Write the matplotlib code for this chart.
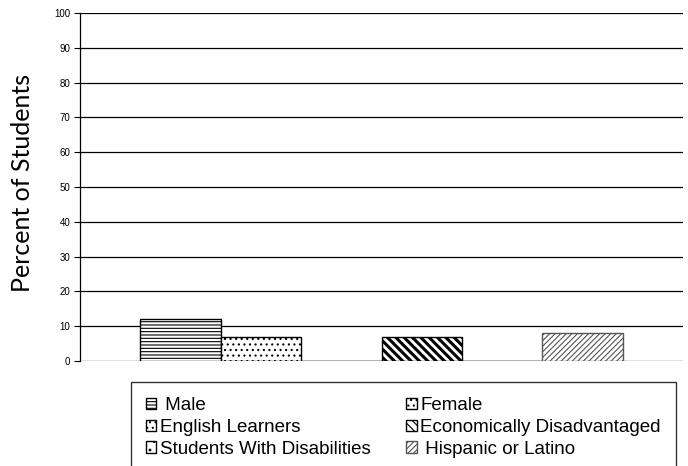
import matplotlib
matplotlib.use("Agg")
import matplotlib.pyplot as plt

# Data
groups = ["Male", "English Learners", "Students With Disabilities",
          "Female", "Economically Disadvantaged", "Hispanic or Latino"]
bar_order = ["Male", "Female", "English Learners",
             "Economically Disadvantaged", "Students With Disabilities",
             "Hispanic or Latino"]
values = {"Male": 12, "Female": 7, "English Learners": 0,
          "Economically Disadvantaged": 7, "Students With Disabilities": 0,
          "Hispanic or Latino": 8}
hatches = {"Male": "-----", "Female": "...", "English Learners": "...",
           "Economically Disadvantaged": "\\\\\\\\", "Students With Disabilities": "..",
           "Hispanic or Latino": "//////"}
hatch_lw = {"Economically Disadvantaged": 2.2}
# legend text as shown (two entries carry a leading space)
legend_text = {"Male": " Male", "Hispanic or Latino": " Hispanic or Latino"}
y_ticks = list(range(0, 101, 10))

plt.rcParams['font.family'] = ['Liberation Sans', 'DejaVu Sans']
plt.rcParams['hatch.linewidth'] = 0.8

fig = plt.figure(figsize=(6.88, 4.66), dpi=100)
ax = fig.add_axes([80/688, 1-361/466, 603/688, 348/466])

n = len(bar_order)
w = 0.8 / n
handles = {}
for i, name in enumerate(bar_order):
    x = -0.4 + w * (i + 0.5)
    ec = "#555555" if name == "Hispanic or Latino" else "black"
    with plt.rc_context({'hatch.linewidth': hatch_lw.get(name, 0.8)}):
        b = ax.bar(x, values[name], width=w, color="white", edgecolor=ec,
                   hatch=hatches[name], linewidth=1.0, zorder=3)
    for p in b:
        if hasattr(p, "set_hatch_linewidth"):
            p.set_hatch_linewidth(hatch_lw.get(name, 0.8))
    handles[name] = b

ax.set_xlim(-0.5, 0.5)
ax.set_ylim(0, 100)
ax.set_yticks(y_ticks)
ax.tick_params(axis='y', labelsize=7, length=4, width=0.8, colors='black', pad=3)
ax.set_xticks([])
ax.yaxis.grid(True, color='black', linewidth=0.9)
ax.set_axisbelow(True)
for s in ['top', 'right', 'bottom']:
    ax.spines[s].set_visible(False)
ax.spines['left'].set_linewidth(0.9)

fig.text(23/688, 1-183/466, "Percent of Students", rotation=90,
         ha='center', va='center', fontsize=18, fontweight='normal',
         family=['Lato', 'DejaVu Sans'])

leg = fig.legend([handles[g] for g in groups],
                 [legend_text.get(g, g) for g in groups], ncol=2,
                 loc='upper left', bbox_to_anchor=(131/688, 1-382/466),
                 fontsize=13.5, frameon=True, fancybox=False,
                 edgecolor='black', handlelength=0.55, handleheight=0.55,
                 handletextpad=0.2, labelspacing=0.26, borderpad=0.8,
                 columnspacing=1.9, borderaxespad=0)
leg.get_frame().set_linewidth(1.0)

fig.savefig("out.png", dpi=100)
